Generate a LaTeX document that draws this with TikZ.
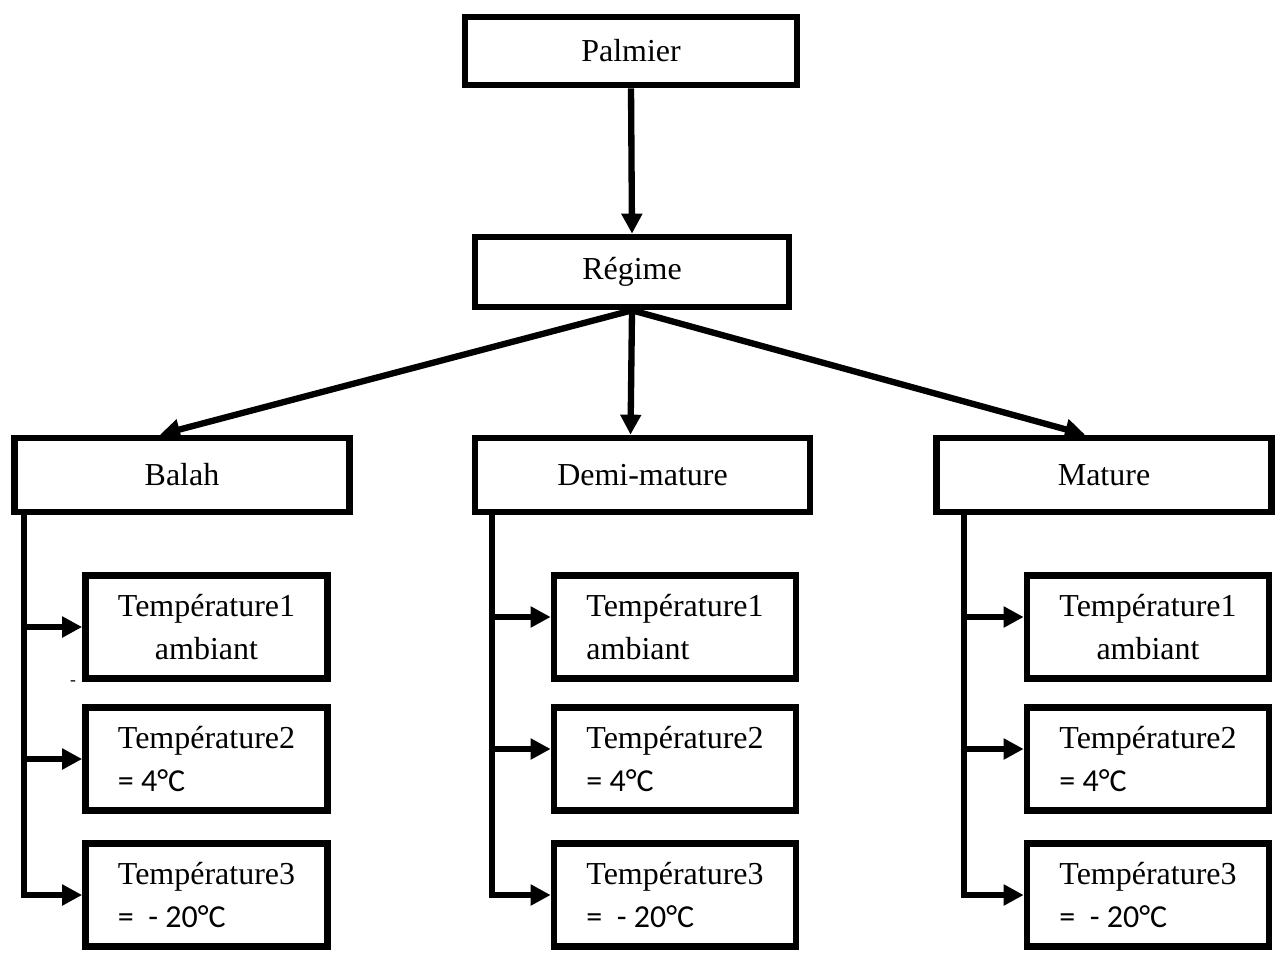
\documentclass[tikz,border=0pt]{standalone}
\usepackage{fontspec}
\setmainfont{Liberation Serif}
\newfontfamily\calfont{Carlito}
\usetikzlibrary{calc, positioning}
\usetikzlibrary{arrows.meta}
\def\mw{3.35cm}
\def\mh{0.74cm}
\def\tw{2.42cm}
\def\th{1.03cm}
\tikzset{
    border/.style = {
        draw, rectangle, minimum width=\mw, minimum height=\mh, line width=1.9pt,
        font=\fontsize{9.1}{10}\selectfont
    },
    tempborder/.style = {
        border, minimum width=\tw, minimum height=\th, align=#1, inner sep=2pt,
        font=\fontsize{9.1}{12}\selectfont
    },
    tempborder/.default = left
}

\begin{document}
\begin{tikzpicture}
        \useasboundingbox (0,0) rectangle (12.77,-9.56);
        % Place the blocks
        \node [border, minimum width=3.32cm, minimum height=0.68cm] (palm) at (6.31,-0.51) {Palmier};
        \node [border, minimum width=3.14cm, minimum height=0.70cm] (reg) at (6.32,-2.72) {Régime};
        \node [border] (c1) at (1.82,-4.75) {Balah};
        \node [border] (c2) at (6.425,-4.75) {Demi-mature};
        \node [border] (c3) at (11.04,-4.75) {Mature};
        % Temperature blocks
        \node [tempborder=center] (t11) at (2.065,-6.27) {Température1\\ambiant};
        \node [tempborder] (t12) at (2.065,-7.59) {Température2\\{\calfont = 4°C}};
        \node [tempborder] (t13) at (2.065,-8.95) {Température3\\{\calfont =\ \ - 20°C}};
        \node [tempborder] (t21) at (6.75,-6.27) {Température1\\ambiant};
        \node [tempborder] (t22) at (6.75,-7.59) {Température2\\{\calfont = 4°C}};
        \node [tempborder] (t23) at (6.75,-8.95) {Température3\\{\calfont =\ \ - 20°C}};
        \node [tempborder=center] (t31) at (11.48,-6.27) {Température1\\ambiant};
        \node [tempborder] (t32) at (11.48,-7.59) {Température2\\{\calfont = 4°C}};
        \node [tempborder] (t33) at (11.48,-8.95) {Température3\\{\calfont =\ \ - 20°C}};
        \node [font=\tiny] (dash) at (0.73,-6.83) {-};
        % Trunks
        \coordinate (k1) at (0.24,-4.75);
        \coordinate (k2) at (4.92,-4.75);
        \coordinate (k3) at (9.64,-4.75);
        \begin{scope}[line width=1.8pt, >={Triangle[width=2mm,length=2mm]}]
            \draw[->] (palm.south) -- (reg.north);
            \draw[->] (reg.south) -- ([xshift=-2.2mm]c1.north);
            \draw[->] (reg.south) -- ([xshift=-1.2mm]c2.north);
            \draw[->] (reg.south) -- ([xshift=-1.9mm]c3.north);
            \draw[->] (k1 |- c1.south) |- (t13.west);
            \draw[->] (k1 |- t11.west) -- (t11.west);
            \draw[->] (k1 |- t12.west) -- (t12.west);
            \draw[->] (k2 |- c2.south) |- (t23.west);
            \draw[->] ([yshift=1mm]k2 |- t21.west) -- ([yshift=1mm]t21.west);
            \draw[->] ([yshift=1mm]k2 |- t22.west) -- ([yshift=1mm]t22.west);
            \draw[->] (k3 |- c3.south) |- (t33.west);
            \draw[->] ([yshift=1mm]k3 |- t31.west) -- ([yshift=1mm]t31.west);
            \draw[->] ([yshift=1mm]k3 |- t32.west) -- ([yshift=1mm]t32.west);
        \end{scope}
    \end{tikzpicture}
\end{document}
